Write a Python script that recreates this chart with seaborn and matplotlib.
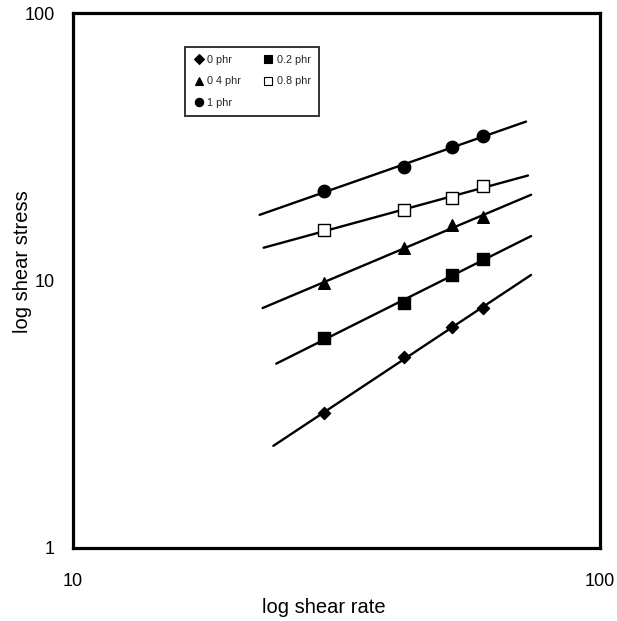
import numpy as np
import pandas as pd
import matplotlib
matplotlib.use("Agg")
import matplotlib.pyplot as plt
import seaborn as sns

# Shear rate (x) and shear stress for each filler loading
shear_rate = [30, 42.4, 52.3, 60.1]
stress_0 = [3.19, 5.16, 6.72, 7.87]
stress_02 = [6.08, 8.26, 10.5, 12.0]
stress_04 = [9.81, 13.2, 16.1, 17.2]
stress_08 = [15.4, 18.3, 20.3, 22.6]
stress_1 = [21.6, 26.6, 31.5, 34.8]

labels = ["0 phr", "0.2 phr", "0 4 phr", "0.8 phr", "1 phr"]
series = [stress_0, stress_02, stress_04, stress_08, stress_1]
markers = ["D", "s", "^", "s", "o"]
facecolors = ["black", "black", "black", "white", "black"]
sizes = [38, 70, 70, 70, 80]
# extent of the power-law trend lines
fit_start = [24.0, 24.3, 22.9, 23.0, 22.6]
fit_end = [74.0, 74.0, 74.0, 73.0, 72.4]

sns.set_style("white")
plt.rcParams["font.family"] = ["Liberation Sans", "DejaVu Sans"]

fig = plt.figure(figsize=(6.17, 6.21), dpi=100)
ax = fig.add_axes([73 / 617, 1 - 548 / 621, 527 / 617, 535 / 621])

handles = {}
for lab, ys, mk, fc, sz, x0, x1 in zip(labels, series, markers, facecolors, sizes, fit_start, fit_end):
    lx, ly = np.log10(shear_rate), np.log10(ys)
    slope, icpt = np.polyfit(lx, ly, 1)
    xf = np.array([x0, x1])
    fit = pd.DataFrame({"x": xf, "y": 10 ** (icpt + slope * np.log10(xf))})
    sns.lineplot(data=fit, x="x", y="y", ax=ax, color="black", lw=1.7, zorder=2)
    pts = pd.DataFrame({"x": shear_rate, "y": ys})
    sns.scatterplot(data=pts, x="x", y="y", ax=ax, marker=mk, s=sz,
                    facecolor=fc, edgecolor="black", linewidth=1.0, zorder=3)
    handles[lab] = plt.Line2D([], [], ls="none", marker=mk, markersize=6 if mk != "D" else 4.6,
                              markerfacecolor=fc, markeredgecolor="black", markeredgewidth=0.8)

ax.set_xscale("log")
ax.set_yscale("log")
ax.set_xlim(10, 100)
ax.set_ylim(1, 100)
ax.set_xticks([10, 100])
ax.set_xticklabels(["10", "100"])
ax.set_yticks([1, 10, 100])
ax.set_yticklabels(["1", "10", "100"])
ax.minorticks_off()
ax.tick_params(axis="both", length=0, labelsize=13, labelcolor="black")
ax.tick_params(axis="x", pad=18)
ax.tick_params(axis="y", pad=13)

for sp in ax.spines.values():
    sp.set_visible(True)
    sp.set_color("black")
    sp.set_linewidth(2.3)

ax.set_xlabel("log shear rate", fontsize=14.5, color="black")
ax.set_ylabel("log shear stress", fontsize=14.5, color="black")
ax.xaxis.set_label_coords((324 - 73) / 527, -(598 - 548) / 535)
ax.yaxis.set_label_coords(-(73 - 32) / 527, (548 - 262) / 535)

order = ["0 phr", "0 4 phr", "1 phr", "0.2 phr", "0.8 phr"]
leg = ax.legend([handles[k] for k in order], order, ncol=2, loc="upper left",
                bbox_to_anchor=((185 - 73) / 527, (548 - 47) / 535), borderaxespad=0,
                fontsize=7.8, frameon=True, fancybox=False, handletextpad=0.3,
                columnspacing=2.0, labelspacing=1.05, handlelength=1.0,
                borderpad=0.75)
leg.get_frame().set_edgecolor("black")
leg.get_frame().set_linewidth(1.4)

fig.savefig("out.png", dpi=100)
